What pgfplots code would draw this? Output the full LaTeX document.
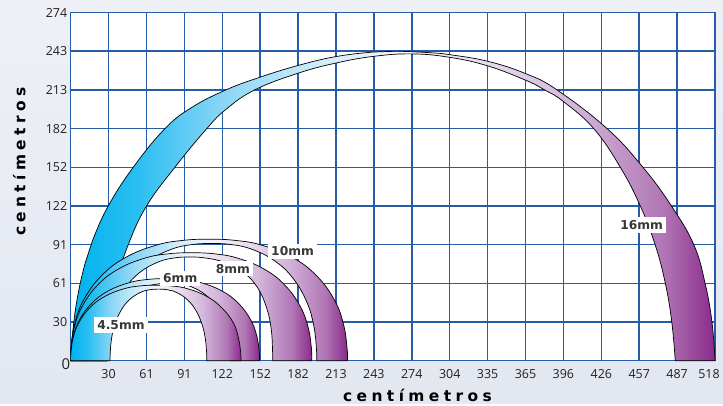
\documentclass[border=0pt]{standalone}
\usepackage{fontspec}
\setmainfont{Open Sans}
\newfontfamily\labfont{DejaVu Sans}
\usepackage{pgfplots}
\pgfplotsset{compat=1.18}
\usepgfplotslibrary{fillbetween}

\definecolor{gridblue}{RGB}{38,92,168}
\definecolor{tickgray}{RGB}{35,31,32}
\definecolor{labgray}{RGB}{55,55,55}
\definecolor{bgtop}{RGB}{238,240,246}
\definecolor{bgbot}{RGB}{226,231,240}
\definecolor{bc1}{RGB}{0,178,238}
\definecolor{bc2}{RGB}{40,190,241}
\definecolor{bc3}{RGB}{140,214,246}
\definecolor{bc4}{RGB}{205,236,250}
\definecolor{mid}{RGB}{246,244,250}
\definecolor{pc4}{RGB}{233,220,238}
\definecolor{pc3}{RGB}{212,182,219}
\definecolor{pc2}{RGB}{176,118,180}
\definecolor{pc1}{RGB}{138,42,139}

\pgfdeclarehorizontalshading{band}{100bp}{color(0bp)=(bc1); color(25bp)=(bc1); color(30bp)=(bc2); color(37bp)=(bc3); color(44bp)=(bc4); color(50bp)=(mid); color(57bp)=(pc4); color(64bp)=(pc3); color(71bp)=(pc2); color(75bp)=(pc1); color(100bp)=(pc1)}

\pgfplotsset{
  layers/mylayers/.define layer set={
    bg, axis background, axis grid, axis ticks, axis lines, axis tick labels,
    pre main, main, axis descriptions, axis foreground
  }{},
}
\tikzset{
  bandfill/.style={draw=black, line width=0.7bp,
    path picture={\shade[shading=band] (path picture bounding box.south west) rectangle (path picture bounding box.north east);}}
}

\newcommand{\tickfont}{\fontsize{12.5}{14}\selectfont}
\newcommand{\mmfont}{\labfont\bfseries\fontsize{12.3}{14}\selectfont}
\newcommand{\axlab}{\labfont\bfseries\fontsize{15.5}{18}\selectfont c\kern4.4bp e\kern4.4bp n\kern4.4bp t\kern4.4bp í\kern4.4bp m\kern4.4bp e\kern4.4bp t\kern4.4bp r\kern4.4bp o\kern4.4bp s}

\begin{document}
\begin{tikzpicture}
\begin{axis}[
  set layers=mylayers,
  at={(70.7bp,43.3bp)}, anchor=south west,
  scale only axis, width=644.3bp, height=348.2bp,
  xmin=0, xmax=518.16, ymin=0, ymax=274.32,
  clip=false,
  xtick={0,30.48,60.96,91.44,121.92,152.4,182.88,213.36,243.84,274.32,304.8,335.28,365.76,396.24,426.72,457.2,487.68,518.16},
  xticklabels={,30,61,91,122,152,182,213,243,274,304,335,365,396,426,457,487,{\hspace*{-12bp}518}},
  ytick={0,30.48,60.96,91.44,121.92,152.4,182.88,213.36,243.84,274.32},
  yticklabels={,30,61,91,122,152,182,213,243,274},
  grid=major,
  major grid style={gridblue, line width=1.5bp},
  axis line style={gridblue, line width=1.5bp},
  major tick length=0pt,
  axis background/.style={fill=white},
  tick label style={font=\tickfont, text=tickgray},
  xticklabel style={yshift=-5bp},
]
\begin{pgfonlayer}{bg}
\shade[top color=bgtop, bottom color=bgbot] (rel axis cs:-0.10973,-0.12435) rectangle (rel axis cs:1.01242,1.03590);
\end{pgfonlayer}
% ---------- 16mm ----------
\addplot[draw=none, smooth, tension=0.7, name path=o16] coordinates {
(0,0) (1.8,24.1) (5.5,50.3) (11.6,76.8) (17.5,94.5) (30.2,121.9) (50.3,152.4) (75.9,182.9) (97.5,199.6) (125,213.4) (152.4,223.4) (182.9,232.6) (213.4,239.6) (243.8,243.2) (262.1,243.8) (289.6,242.6) (304.8,241.1) (335.3,235.9) (365.8,226.2) (391,213.4) (431.3,182.9) (460.2,152.4) (483.1,121.9) (501.1,91.4) (510.2,61) (515.7,30.5) (518.2,0)};
\addplot[draw=none, smooth, tension=0.7, name path=i16] coordinates {
(29,0) (29.6,15.2) (32,30.5) (36.6,61) (46.3,91.4) (61,121.9) (83.8,152.4) (109.5,182.9) (125,198.1) (148.1,213.4) (182.9,226.5) (213.4,234.5) (243.8,239.8) (274.3,241.7) (304.8,239) (335.3,232.3) (365.8,221) (381,213.4) (396.2,204.2) (420.6,182.9) (442,152.4) (458.1,121.9) (470,91.4) (478.2,61) (483.4,30.5) (486.2,0)};
\path[bandfill, intersection segments={of=o16 and i16, sequence={A* -- B*[reverse]}}] -- cycle;
% ---------- 10mm ----------
\addplot[draw=none, smooth, tension=0.7, name path=o10] coordinates {
(0,0) (0.22,9.57) (3.11,28.71) (10.46,47.85) (24.81,66.99) (44.17,81.35) (68.42,90.92) (89.78,94.74) (111.25,95.7) (132.72,94.74) (154.08,90.92) (178.33,81.35) (197.69,66.99) (212.04,47.85) (219.39,28.71) (222.28,9.57) (222.5,0)};
\addplot[draw=none, smooth, tension=0.7, name path=i10] coordinates {
(28.96,0) (29.13,9.24) (31.32,27.71) (36.9,46.18) (47.79,64.65) (62.48,78.5) (80.88,87.73) (97.1,91.43) (113.39,92.35) (129.68,91.43) (145.9,87.73) (164.3,78.5) (178.99,64.65) (189.88,46.18) (195.46,27.71) (197.65,9.24) (197.82,0)};
\path[bandfill, intersection segments={of=o10 and i10, sequence={A* -- B*[reverse]}}] -- cycle;
% ---------- 8mm ----------
\addplot[draw=none, smooth, tension=0.7, name path=o8] coordinates {
(0,0) (0.19,8.5) (2.71,25.51) (9.11,42.52) (21.62,59.53) (38.48,72.28) (59.61,80.79) (78.22,84.19) (96.93,85.04) (115.64,84.19) (134.25,80.79) (155.38,72.28) (172.24,59.53) (184.75,42.52) (191.15,25.51) (193.67,8.5) (193.86,0)};
\addplot[draw=none, smooth, tension=0.7, name path=i8] coordinates {
(28.96,0) (29.09,8.17) (30.83,24.51) (35.23,40.85) (43.85,57.18) (55.46,69.44) (70.01,77.61) (82.83,80.87) (95.71,81.69) (108.59,80.87) (123,77.61) (139,69.44) (150.5,57.18) (157.8,40.85) (161.3,24.51) (162.33,8.17) (162.46,0)};
\path[bandfill, intersection segments={of=o8 and i8, sequence={A* -- B*[reverse]}}] -- cycle;
% ---------- 6mm ----------
\addplot[draw=none, smooth, tension=0.7, name path=o6] coordinates {
(0,0) (0.15,6.46) (2.13,19.38) (7.13,32.3) (16.93,45.22) (30.13,54.91) (46.68,61.37) (61.25,63.95) (75.9,64.6) (90.55,63.95) (105.12,61.37) (121.67,54.91) (134.87,45.22) (144.67,32.3) (149.67,19.38) (151.65,6.46) (151.8,0)};
\addplot[draw=none, smooth, tension=0.7, name path=i6] coordinates {
(29.87,0) (29.97,6.1) (31.24,18.29) (34.48,30.48) (40.81,42.67) (49.35,51.82) (60.05,57.91) (69.47,60.35) (78.94,60.96) (88.41,60.35) (97.83,57.91) (108.53,51.82) (117.07,42.67) (123.4,30.48) (126.64,18.29) (127.91,6.1) (128.01,0)};
\path[bandfill, intersection segments={of=o6 and i6, sequence={A* -- B*[reverse]}}] -- cycle;
% ---------- 4.5mm ----------
\addplot[draw=none, smooth, tension=0.7, name path=o45] coordinates {
(0,0) (0.14,5.94) (1.92,17.83) (6.43,29.72) (15.26,41.61) (27.17,50.52) (42.08,56.47) (55.22,58.85) (68.43,59.44) (81.64,58.85) (94.78,56.47) (109.69,50.52) (121.6,41.61) (130.86,29.72) (134.94,17.83) (136.72,5.94) (136.86,0)};
\addplot[draw=none, smooth, tension=0.7, name path=i45] coordinates {
(31.7,0) (31.78,5.64) (32.79,16.92) (35.35,28.2) (40.37,39.47) (47.13,47.93) (55.6,53.57) (63.06,55.83) (70.56,56.39) (78.06,55.83) (85.52,53.57) (94.0,47.93) (100.75,39.47) (105.77,28.2) (108.33,16.92) (109.34,5.64) (109.42,0)};
\path[bandfill, intersection segments={of=o45 and i45, sequence={A* -- B*[reverse]}}] -- cycle;
% ---------- labels ----------
\node[fill=white, inner xsep=3bp, inner ysep=3bp, font=\mmfont, text=labgray] at (axis cs:40.4,28.1) {4.5mm};
\node[fill=white, inner xsep=3bp, inner ysep=3bp, font=\mmfont, text=labgray] at (axis cs:88.1,65.0) {6mm};
\node[fill=white, inner xsep=3bp, inner ysep=3bp, font=\mmfont, text=labgray] at (axis cs:130.5,72.6) {8mm};
\node[fill=white, inner xsep=3bp, inner ysep=3bp, font=\mmfont, text=labgray] at (axis cs:178.4,86.0) {10mm};
\node[fill=white, inner xsep=3bp, inner ysep=3bp, font=\mmfont, text=labgray] at (axis cs:459.2,106.9) {16mm};
\end{axis}
\node[font=\fontsize{15}{17}\selectfont, text=tickgray] at (65.8bp,40.2bp) {0};
\node[anchor=base, text=black] at (417.5bp,2.5bp) {\axlab};
\node[anchor=base, rotate=90, text=black] at (25.5bp,242.5bp) {\axlab};
\end{tikzpicture}
\end{document}
